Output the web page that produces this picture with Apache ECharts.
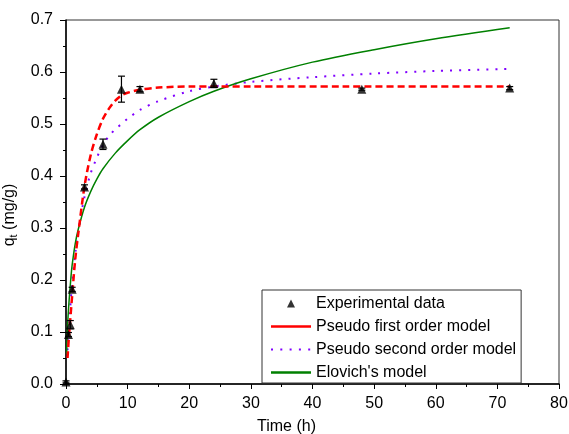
<!DOCTYPE html>
<html>
<head>
<meta charset="utf-8">
<script src="https://cdn.jsdelivr.net/npm/echarts@6/dist/echarts.min.js"></script>
<style>
  html, body { margin: 0; padding: 0; background: #fff; }
  #chart { width: 569px; height: 434px; }
</style>
</head>
<body>
<div id="chart"></div>
<script>
// Experimental points (time in h, q_t in mg/g) and error half-widths
const expTime = [0, 0.4, 0.7, 1, 3, 6, 9, 12, 24, 48, 72];
const expQ = [0.004, 0.095, 0.114, 0.182, 0.379, 0.461, 0.567, 0.567, 0.578, 0.567, 0.569];
const expErr = [0.002, 0.004, 0.008, 0.004, 0.004, 0.01, 0.025, 0.005, 0.008, 0.002, 0.003];

// Model curves
const pfoTime = [0.25, 0.5, 1, 1.5, 2, 3, 4, 5, 6, 7, 8, 9, 10, 12, 15, 20, 30, 45, 60, 72];
const pfoQ = [0.05, 0.095, 0.17, 0.24, 0.29, 0.38, 0.44, 0.48, 0.51, 0.53, 0.545, 0.555, 0.56, 0.566, 0.57, 0.572, 0.572, 0.572, 0.572, 0.572];

const psoTime = [0.25, 0.5, 1, 1.5, 2, 3, 4, 5, 6, 7, 8, 9, 10, 12, 15, 20, 24, 30, 40, 50, 60, 72];
const psoQ = [0.065, 0.115, 0.195, 0.25, 0.295, 0.36, 0.405, 0.435, 0.46, 0.477, 0.49, 0.5, 0.51, 0.527, 0.544, 0.563, 0.572, 0.581, 0.59, 0.597, 0.602, 0.606];

const eloTime = [0.1, 0.27, 0.5, 0.8, 1, 1.5, 2, 3, 4, 5, 6, 8, 10, 12, 15, 20, 24, 30, 40, 50, 60, 72];
const eloQ = [0.058, 0.115, 0.16, 0.205, 0.229, 0.27, 0.298, 0.34, 0.37, 0.394, 0.414, 0.444, 0.468, 0.489, 0.513, 0.543, 0.563, 0.587, 0.619, 0.643, 0.664, 0.685];

const legendNames = ['Experimental data', 'Pseudo first order model', 'Pseudo second order model', "Elovich's model"];

const zip = (xs, ys) => xs.map((x, i) => [x, ys[i]]);

// legend icons share a 40x8 box (tiny end segments fix the box)
const box = 'M0,0L0.01,0M40,8L39.99,8';
const triIcon = 'path://' + box + 'M16,8L20,0L24,8Z';
const lineIcon = 'path://' + box + 'M0,2.8h41v2.4h-41Z';
const dotIcon = 'path://' + box + 'M0,3h2v2h-2ZM9.3,3h2v2h-2ZM18.6,3h2v2h-2ZM27.9,3h2v2h-2ZM37.2,3h2v2h-2Z';

const chart = echarts.init(document.getElementById('chart'));
const font = 'Liberation Sans, Arial, sans-serif';

const option = {
  animation: false,
  textStyle: { fontFamily: font },
  grid: {
    left: 66, right: 10, top: 20, bottom: 50,
    outerBoundsMode: 'none', containLabel: false,
    show: true, borderColor: '#333', borderWidth: 1, backgroundColor: 'transparent'
  },
  legend: {
    data: [
      { name: legendNames[0], icon: triIcon, itemStyle: { color: '#000' } },
      { name: legendNames[1], icon: lineIcon, itemStyle: { color: '#ff0000' } },
      { name: legendNames[2], icon: dotIcon, itemStyle: { color: '#8000ff' } },
      { name: legendNames[3], icon: lineIcon, itemStyle: { color: '#008000' } }
    ],
    orient: 'vertical',
    left: 262, top: 290,
    itemWidth: 40, itemHeight: 8,
    itemGap: 6,
    padding: [5, 5, 2, 9],
    borderColor: '#333', borderWidth: 1,
    textStyle: { fontSize: 16, color: '#000', fontFamily: font, lineHeight: 17 }
  },
  xAxis: {
    type: 'value', min: 0, max: 80, interval: 10,
    name: 'Time (h)', nameLocation: 'middle', nameGap: 35,
    nameTextStyle: { fontSize: 16, color: '#000', padding: [0, 52, 0, 0] },
    axisLine: { lineStyle: { color: '#000', width: 1.5 } },
    axisTick: { inside: false, length: 5, lineStyle: { color: '#000' } },
    minorTick: { show: true, splitNumber: 2, length: 3, lineStyle: { color: '#000' } },
    axisLabel: { fontSize: 16, color: '#000', margin: 12 },
    splitLine: { show: false }
  },
  yAxis: {
    type: 'value', min: 0, max: 0.7, interval: 0.1,
    name: '{a|q}{b|t}{a| (mg/g)}', nameLocation: 'middle', nameGap: 32,
    nameRotate: 90,
    nameTextStyle: {
      color: '#000',
      padding: [0, 26, 0, 0],
      rich: {
        a: { fontSize: 16, color: '#000', fontFamily: font },
        b: { fontSize: 11, color: '#000', fontFamily: font, padding: [10, 0, 0, 0] }
      }
    },
    axisLine: { lineStyle: { color: '#000', width: 1.5 } },
    axisTick: { inside: false, length: 6, lineStyle: { color: '#000' } },
    minorTick: { show: true, splitNumber: 2, length: 3, lineStyle: { color: '#000' } },
    axisLabel: { fontSize: 16, color: '#000', margin: 13, formatter: v => v.toFixed(1) },
    splitLine: { show: false }
  },
  series: [
    {
      name: legendNames[1], type: 'line', smooth: 0.3, symbol: 'none',
      data: zip(pfoTime, pfoQ),
      lineStyle: { color: '#ff0000', width: 2.5, type: [7, 4] },
      itemStyle: { color: '#ff0000' }, z: 3
    },
    {
      name: legendNames[2], type: 'line', smooth: 0.3, symbol: 'none',
      data: zip(psoTime, psoQ),
      lineStyle: { color: '#8000ff', width: 2, type: [2, 7] },
      itemStyle: { color: '#8000ff' }, z: 2
    },
    {
      name: legendNames[3], type: 'line', smooth: 0.3, symbol: 'none',
      data: zip(eloTime, eloQ),
      lineStyle: { color: '#008000', width: 1.5 },
      itemStyle: { color: '#008000' }, z: 2
    },
    {
      name: 'err', type: 'custom', z: 4,
      data: expTime.map((t, i) => [t, expQ[i] - expErr[i], expQ[i] + expErr[i]]),
      renderItem: (params, api) => {
        const lo = api.coord([api.value(0), api.value(1)]);
        const hi = api.coord([api.value(0), api.value(2)]);
        const w = 3.5;
        const style = { stroke: '#000', lineWidth: 1.2 };
        return {
          type: 'group',
          children: [
            { type: 'line', shape: { x1: lo[0], y1: lo[1], x2: hi[0], y2: hi[1] }, style },
            { type: 'line', shape: { x1: lo[0] - w, y1: lo[1], x2: lo[0] + w, y2: lo[1] }, style },
            { type: 'line', shape: { x1: hi[0] - w, y1: hi[1], x2: hi[0] + w, y2: hi[1] }, style }
          ]
        };
      }
    },
    {
      name: legendNames[0], type: 'scatter', symbol: 'triangle', symbolSize: 9,
      data: zip(expTime, expQ),
      itemStyle: { color: '#000' }, z: 5
    }
  ]
};

chart.setOption(option);
</script>
</body>
</html>
